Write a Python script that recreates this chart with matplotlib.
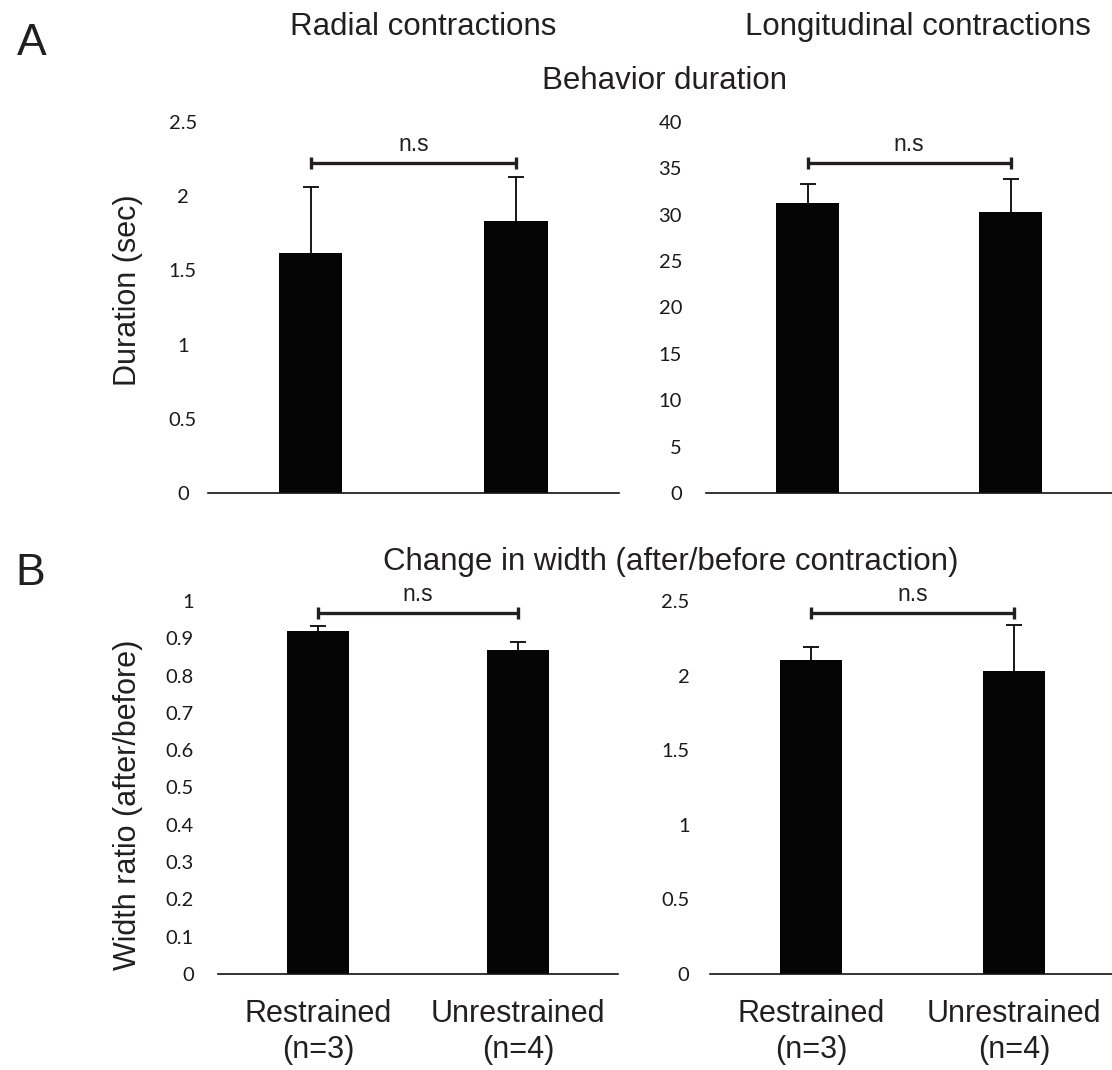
import matplotlib
matplotlib.use("Agg")
import matplotlib.pyplot as plt

# ---------------- data ----------------
categories = ["Restrained\n(n=3)", "Unrestrained\n(n=4)"]

radial_duration = [1.62, 1.83]
radial_duration_err = [0.44, 0.30]
longitudinal_duration = [31.3, 30.3]
longitudinal_duration_err = [2.0, 3.55]

radial_width = [0.92, 0.869]
radial_width_err = [0.013, 0.021]
longitudinal_width = [2.105, 2.03]
longitudinal_width_err = [0.087, 0.31]

ticks_duration_radial = [0, 0.5, 1, 1.5, 2, 2.5]
ticks_duration_long = [0, 5, 10, 15, 20, 25, 30, 35, 40]
ticks_width_radial = [0, 0.1, 0.2, 0.3, 0.4, 0.5, 0.6, 0.7, 0.8, 0.9, 1]
ticks_width_long = [0, 0.5, 1, 1.5, 2, 2.5]

bracket_levels = [2.224, 35.6, 0.968, 2.42]
sig_label = "n.s"

# ---------------- layout ----------------
W, H = 1112, 1070
fig = plt.figure(figsize=(W / 100, H / 100), dpi=100)
TXT = "#231f20"
BIG = ["Liberation Sans", "DejaVu Sans"]
TICKF = ["Lato", "DejaVu Sans"]


def ax_px(left, right, top, bottom):
    return fig.add_axes([left / W, (H - bottom) / H, (right - left) / W, (bottom - top) / H])


def fmt(v):
    return f"{v:g}"


def panel(ax, vals, errs, ticks, bracket_y, tick_pad_px, ha, show_cats):
    x = [0, 1]
    ax.bar(x, vals, width=0.31, color="#050505", zorder=2)
    eb = ax.errorbar(x, vals, yerr=[[0, 0], errs], fmt="none", ecolor="#050505",
                     elinewidth=1.3, capsize=6, capthick=1.3, zorder=1)
    # hide the lower caps (only upper error shown)
    if len(eb[1]) == 2:
        eb[1][0].set_visible(False)
    ax.set_xlim(-0.5, 1.5)
    ax.set_ylim(ticks[0], ticks[-1])
    for s in ["left", "right", "top"]:
        ax.spines[s].set_visible(False)
    ax.spines["bottom"].set_linewidth(1.2)
    ax.spines["bottom"].set_color("#111111")
    ax.set_yticks(ticks)
    ax.set_yticklabels([fmt(t) for t in ticks], family=TICKF, fontsize=14.5, color="#1a1a1a", ha=ha)
    ax.tick_params(axis="y", length=0, pad=tick_pad_px * 0.72)
    ax.set_xticks(x)
    if show_cats:
        ax.set_xticklabels(categories, family=BIG, fontsize=22, color=TXT, linespacing=1.25)
        ax.tick_params(axis="x", length=0, pad=18)
    else:
        ax.set_xticklabels(["", ""])
        ax.tick_params(axis="x", length=0)
    # significance bracket
    ax.plot(x, [bracket_y, bracket_y], color="#231f20", lw=2.4, solid_capstyle="butt", clip_on=False)
    ax.plot(x, [bracket_y, bracket_y], ls="none", marker="|", ms=9, mew=2.4, color="#231f20", clip_on=False)
    ax.annotate(sig_label, xy=(0.5, bracket_y), xytext=(0, 5), textcoords="offset points",
                ha="center", va="bottom", family=BIG, fontsize=16.5, color=TXT, annotation_clip=False)


axA1 = ax_px(207.75, 618.75, 122, 493)
axA2 = ax_px(706, 1112, 122, 493)
axB1 = ax_px(218, 618, 601, 974)
axB2 = ax_px(709.5, 1115.5, 601, 974)

panel(axA1, radial_duration, radial_duration_err, ticks_duration_radial, bracket_levels[0], 25, "center", False)
panel(axA2, longitudinal_duration, longitudinal_duration_err, ticks_duration_long, bracket_levels[1], 24, "right", False)
panel(axB1, radial_width, radial_width_err, ticks_width_radial, bracket_levels[2], 24, "right", True)
panel(axB2, longitudinal_width, longitudinal_width_err, ticks_width_long, bracket_levels[3], 20, "right", True)


def ftext(xp, yp, s, **kw):
    fig.text(xp / W, (H - yp) / H, s, family=BIG, color=TXT, **kw)


ftext(17, 55, "A", fontsize=32, ha="left", va="baseline")
ftext(15, 585, "B", fontsize=32, ha="left", va="baseline")
ftext(423, 35, "Radial contractions", fontsize=22.5, ha="center", va="baseline")
ftext(918, 35, "Longitudinal contractions", fontsize=22.5, ha="center", va="baseline")
ftext(665, 89, "Behavior duration", fontsize=22.5, ha="center", va="baseline")
ftext(671, 570, "Change in width (after/before contraction)", fontsize=22.5, ha="center", va="baseline")
ftext(128, 290, "Duration (sec)", fontsize=22, ha="center", va="center", rotation=90)
ftext(128, 805, "Width ratio (after/before)", fontsize=22, ha="center", va="center", rotation=90)

fig.savefig("out.png", dpi=100)
